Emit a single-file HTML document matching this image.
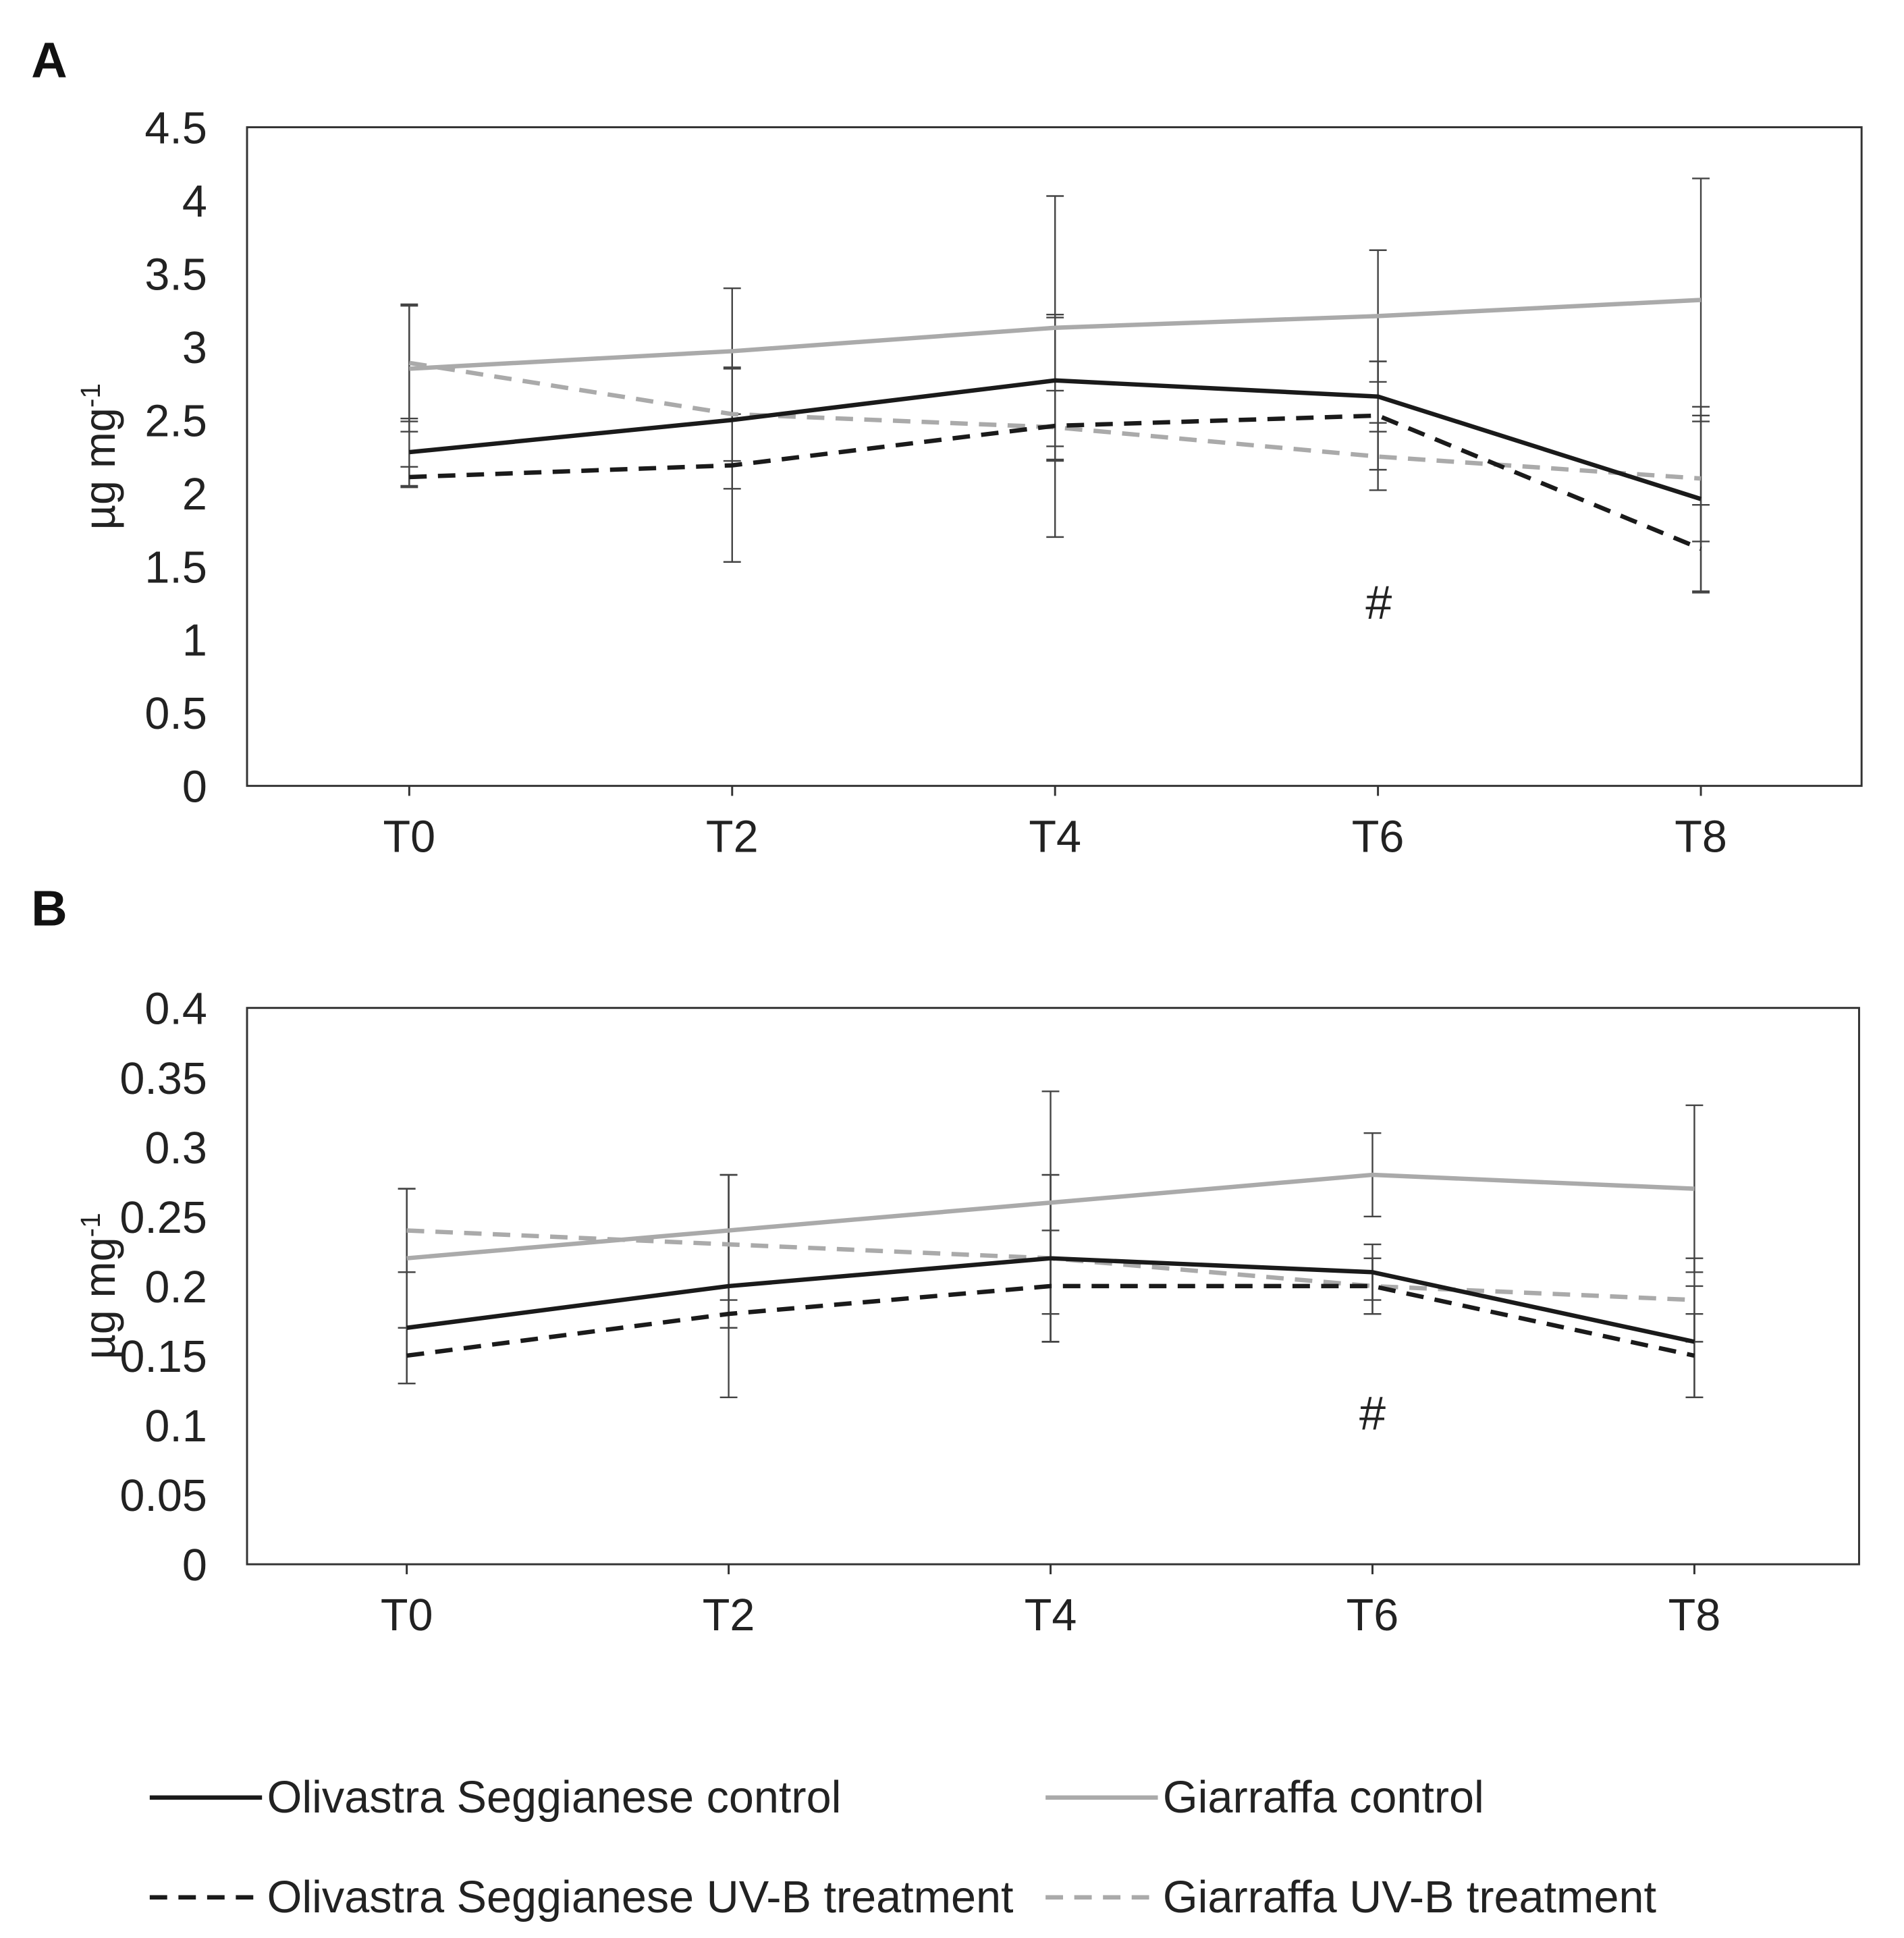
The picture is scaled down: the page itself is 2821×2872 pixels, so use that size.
<!DOCTYPE html>
<html><head><meta charset="utf-8"><style>
html,body{margin:0;padding:0;background:#fff;}
svg{display:block;font-family:"Liberation Sans",sans-serif;}
</style></head><body>
<svg id="chart" width="2821" height="2872" viewBox="0 0 1526 1553.6" preserveAspectRatio="none" xmlns="http://www.w3.org/2000/svg">
<rect width="1526" height="1553.6" fill="#fff"/>
<g id="root"></g>
</svg>
<script>
const categories = ["T0","T2","T4","T6","T8"];
const aOlivControl = [2.28,2.50,2.77,2.66,1.96];
const aOlivUV = [2.11,2.19,2.46,2.53,1.62];
const aGiarControl = [2.85,2.97,3.13,3.21,3.32];
const aGiarUV = [2.89,2.54,2.45,2.25,2.10];
const aOlivControlErr = [0.23,0.47,0.45,0.24,0.63];
const aOlivUVErr = [0.07,0.66,0.24,0.37,0.30];
const aGiarControlErr = [0.43,0.43,0.90,0.45,0.83];
const aGiarUVErr = [0.40,0.32,0.75,0.23,0.43];
const aTicks = ["0","0.5","1","1.5","2","2.5","3","3.5","4","4.5"];
const bOlivControl = [0.17,0.20,0.22,0.21,0.16];
const bOlivUV = [0.15,0.18,0.20,0.20,0.15];
const bGiarControl = [0.22,0.24,0.26,0.28,0.27];
const bGiarUV = [0.24,0.23,0.22,0.20,0.19];
const bOlivControlErr = [0.04,0.08,0.06,0.02,0.04];
const bOlivUVErr = [0.02,0.01,0.04,0.02,0.03];
const bGiarControlErr = [0.05,0.04,0.08,0.03,0.06];
const bGiarUVErr = [0.03,0.05,0.06,0.02,0.03];
const bTicks = ["0","0.05","0.1","0.15","0.2","0.25","0.3","0.35","0.4"];
const legendLabels = ["Olivastra Seggianese control","Giarraffa control","Olivastra Seggianese UV-B treatment","Giarraffa UV-B treatment"];

const NS="http://www.w3.org/2000/svg";
const root=document.getElementById('root');
function mk(tag,attrs,parent){const e=document.createElementNS(NS,tag);for(const k in attrs)e.setAttribute(k,attrs[k]);(parent||root).appendChild(e);return e;}

function panel(p){
  const g=mk('g',{});
  
  
  const ymax=parseFloat(p.ticks[p.ticks.length-1]);
  const y=v=>p.y1-(v/ymax)*(p.y1-p.y0);
  const x=i=>p.xs+i*p.dx;
  const box=mk('rect',{x:p.x0,y:p.y0,width:p.x1-p.x0,height:p.y1-p.y0,fill:'none',stroke:'#333','stroke-width':1.6},g);
  
  
  p.ticks.forEach(t=>{
    const tx=mk('text',{x:p.x0-32,y:y(parseFloat(t))+13,'text-anchor':'end','font-size':36,fill:'#222'},g);
    tx.textContent=t;
    
    
  });
  categories.forEach((c,i)=>{
    mk('line',{x1:x(i),x2:x(i),y1:p.y1,y2:p.y1+8,stroke:'#333','stroke-width':1.6},g);
    const tx=mk('text',{x:x(i),y:p.y1+53,'text-anchor':'middle','font-size':36,fill:'#222'},g);
    tx.textContent=c;
    
    
  });
  const yt=mk('text',{x:0,y:0,'text-anchor':'middle','font-size':35,fill:'#222',transform:`translate(92,${(p.y0+p.y1)/2}) rotate(-90)`},g);
  yt.innerHTML='µg mg<tspan dy="-12" font-size="22">-1</tspan>';
  
  
  const lab=mk('text',{x:25,y:p.labelY,'font-size':40,'font-weight':'bold',fill:'#111'},g);
  lab.textContent=p.label;
  
  
  p.series.forEach(s=>{
    s.vals.forEach((v,i)=>{
      const e=s.err[i];
      const eb=mk('path',{d:`M${x(i)},${y(v+e)}V${y(v-e)}M${x(i)-7},${y(v+e)}h14M${x(i)-7},${y(v-e)}h14`,stroke:'#444','stroke-width':1.3,fill:'none'},g);
      
      
    });
  });
  p.series.forEach(s=>{
    const pl=mk('polyline',{points:s.vals.map((v,i)=>x(i)+','+y(v)).join(' '),fill:'none',stroke:s.color,'stroke-width':3.5,'stroke-dasharray':s.dash?'14 9':'none'},g);
    
    
  });
  const h=mk('text',{x:p.hashX,y:p.hashY,'text-anchor':'middle','font-size':38,fill:'#222'},g);
  h.textContent='#';
  
  
}
panel({name:'panel-a',label:'A',labelY:62,x0:198,x1:1492,y0:102,y1:630,xs:328,dx:258.8,ticks:aTicks,hashX:1105,hashY:496,
 series:[{name:'line-giarraffa-uv',vals:aGiarUV,err:aGiarUVErr,color:'#aaa',dash:true},
 {name:'line-giarraffa-control',vals:aGiarControl,err:aGiarControlErr,color:'#aaa',dash:false},
 {name:'line-olivastra-uv',vals:aOlivUV,err:aOlivUVErr,color:'#1a1a1a',dash:true},
 {name:'line-olivastra-control',vals:aOlivControl,err:aOlivControlErr,color:'#1a1a1a',dash:false}]});
panel({name:'panel-b',label:'B',labelY:742,x0:198,x1:1490,y0:808,y1:1254,xs:326,dx:258,ticks:bTicks,hashX:1100,hashY:1146,
 series:[{name:'line-giarraffa-uv',vals:bGiarUV,err:bGiarUVErr,color:'#aaa',dash:true},
 {name:'line-giarraffa-control',vals:bGiarControl,err:bGiarControlErr,color:'#aaa',dash:false},
 {name:'line-olivastra-uv',vals:bOlivUV,err:bOlivUVErr,color:'#1a1a1a',dash:true},
 {name:'line-olivastra-control',vals:bOlivControl,err:bOlivControlErr,color:'#1a1a1a',dash:false}]});

const leg=[[120,1441,'#1a1a1a',false],[838,1441,'#aaa',false],[120,1521,'#1a1a1a',true],[838,1521,'#aaa',true]];
legendLabels.forEach((t,i)=>{
  const [lx,ly,col,dash]=leg[i];
  const g=mk('g',{});
  
  
  mk('line',{x1:lx,x2:lx+90,y1:ly,y2:ly,stroke:col,'stroke-width':3.5,'stroke-dasharray':dash?'14 9':'none'},g);
  const tx=mk('text',{x:lx+94,y:ly+12,'font-size':36,fill:'#222'},g);
  tx.textContent=t;
});
</script>
</body></html>
